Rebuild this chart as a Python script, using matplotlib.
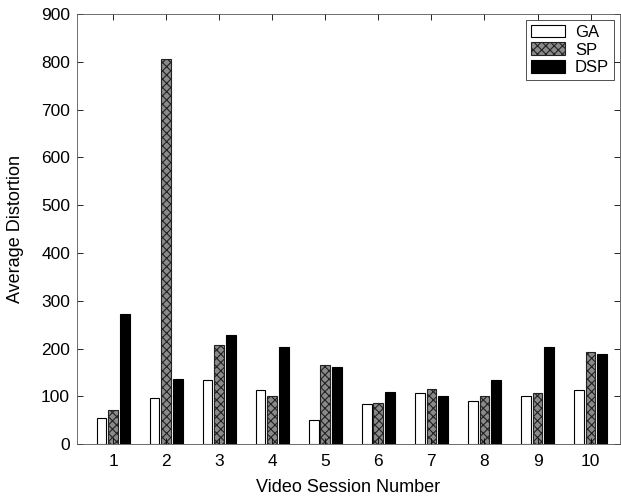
import matplotlib.pyplot as plt
import numpy as np

plt.rcParams['font.family'] = ['Liberation Sans', 'DejaVu Sans']
plt.rcParams['hatch.linewidth'] = 0.8

sessions = [1, 2, 3, 4, 5, 6, 7, 8, 9, 10]
ga = [54, 97, 135, 113, 50, 84, 108, 90, 101, 114]
sp = [71, 805, 207, 101, 166, 87, 116, 102, 107, 194]
dsp = [273, 137, 229, 203, 161, 109, 102, 134, 203, 188]

fig = plt.figure(figsize=(6.21, 4.97), dpi=100)
ax = fig.add_axes([0.124, 0.106, 0.874, 0.866])

x = np.array(sessions)
w = 0.185
off = 0.22
ax.bar(x - off, ga, width=w, facecolor='white', edgecolor='black', linewidth=0.8, label='GA')
ax.bar(x, sp, width=w, facecolor='#8a8a8a', edgecolor='#222222', hatch='xxxx', linewidth=0.8, label='SP')
ax.bar(x + off, dsp, width=w, facecolor='black', edgecolor='black', linewidth=0.8, label='DSP')

ax.set_xlim(0.32, 10.55)
ax.set_ylim(0, 900)
ax.set_xticks(sessions)
ax.set_yticks(range(0, 901, 100))
ax.tick_params(direction='in', top=True, right=True, labelsize=12.5, length=4, width=0.6)
ax.tick_params(axis='x', pad=7)
ax.tick_params(axis='y', pad=5)
for s in ax.spines.values():
    s.set_linewidth(0.6)
    s.set_color('#555555')

ax.set_xlabel('Video Session Number', fontsize=13, labelpad=7)
ax.set_ylabel('Average Distortion', fontsize=13, labelpad=12)

leg = ax.legend(loc='upper right', fontsize=12, frameon=True, fancybox=False,
                edgecolor='black', borderaxespad=0.35, handlelength=2.0,
                handleheight=0.8, labelspacing=0.15, borderpad=0.3,
                handletextpad=0.6)
leg.get_frame().set_linewidth(0.6)

plt.savefig('out.png', dpi=100)
